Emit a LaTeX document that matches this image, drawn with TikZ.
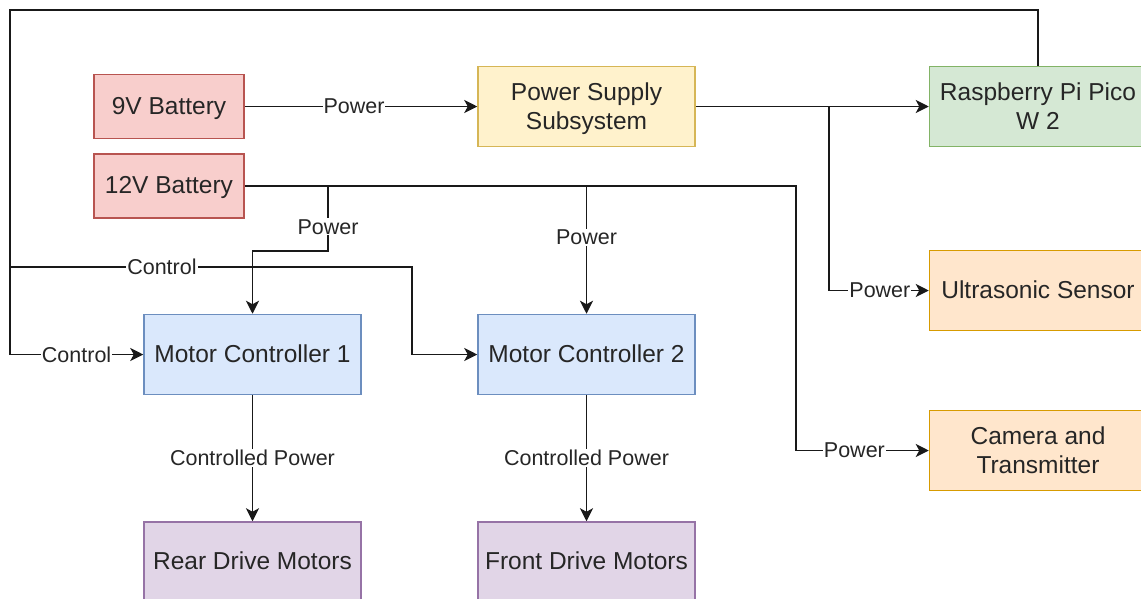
\documentclass[tikz,border=0pt]{standalone}
\usepackage{fontspec}
\setmainfont{Liberation Sans}
\usetikzlibrary{arrows.meta}
\definecolor{redF}{HTML}{F8CECC}\definecolor{redS}{HTML}{B85450}
\definecolor{yelF}{HTML}{FFF2CC}\definecolor{yelS}{HTML}{D6B656}
\definecolor{grnF}{HTML}{D5E8D4}\definecolor{grnS}{HTML}{82B366}
\definecolor{orgF}{HTML}{FFE6CC}\definecolor{orgS}{HTML}{D79B00}
\definecolor{bluF}{HTML}{DAE8FC}\definecolor{bluS}{HTML}{6C8EBF}
\definecolor{purF}{HTML}{E1D5E7}\definecolor{purS}{HTML}{9673A6}
\definecolor{txt}{HTML}{262626}
\tikzset{
  box/.style={draw, line width=1.5pt, minimum width=217pt, minimum height=80pt, inner sep=0pt,
    align=center, text=txt, font=\fontsize{24.5}{29}\selectfont, text height=20.6pt, text depth=5pt},
  twoline/.style={text height=, text depth=0pt},
  bat/.style={box, minimum width=150pt, minimum height=64pt},
  redbox/.style={fill=redF, draw=redS},
  yelbox/.style={fill=yelF, draw=yelS},
  grnbox/.style={fill=grnF, draw=grnS},
  orgbox/.style={fill=orgF, draw=orgS},
  blubox/.style={fill=bluF, draw=bluS},
  purbox/.style={fill=purF, draw=purS},
  wire/.style={line width=1.9pt, draw=black!90},
  arr/.style={wire, -{Stealth[length=13pt,width=13pt,inset=3.5pt]}},
  lbl/.style={fill=white, inner sep=1pt, text=txt, font=\fontsize{21.5}{24}\selectfont}
}
\begin{document}
\begin{tikzpicture}[x=1pt,y=-1pt]
\useasboundingbox (0,0) rectangle (1141,598);
\clip (0,0) rectangle (1141,598);
\fill[white] (0,0) rectangle (1141,598);
% nodes
\node[bat,redbox] (b9) at (169,106.5) {9V Battery};
\node[bat,redbox] (b12) at (169,186) {12V Battery};
\node[box,yelbox,twoline] (pss) at (586.5,106.5) {Power Supply\\Subsystem};
\node[box,grnbox,twoline] (pico) at (1038,106.5) {Raspberry Pi Pico\\W 2};
\node[box,orgbox] (us) at (1038,290.5) {Ultrasonic Sensor};
\node[box,orgbox,twoline] (cam) at (1038,450.5) {Camera and\\Transmitter};
\node[box,blubox] (mc1) at (252.5,354.5) {Motor Controller 1};
\node[box,blubox] (mc2) at (586.5,354.5) {Motor Controller 2};
\node[box,purbox] (rear) at (252.5,562) {Rear Drive Motors};
\node[box,purbox] (front) at (586.5,562) {Front Drive Motors};
% coordinates
\coordinate (j1) at (829,106.5);
\coordinate (c1) at (796,186);
\coordinate (t1) at (328,186);
\coordinate (t1b) at (328,251);
\coordinate (t2) at (586.5,186);
\coordinate (k1) at (10,10);
\coordinate (k2) at (10,267);
\coordinate (k3) at (412,267);
% connectors
\draw[arr] (b9) -- node[lbl,pos=0.47]{Power} (pss);
\draw[arr] (pss) -- (pico);
\draw[arr] (j1) |- node[lbl,pos=0.755]{Power} (us);
\draw[arr] (b12) -- (c1) |- node[lbl,pos=0.72]{Power} (cam);
\draw[arr] (t1) -- node[lbl,pos=0.63]{Power} (t1b) -| (mc1);
\draw[arr] (t2) -- node[lbl,pos=0.4]{Power} (mc2);
\draw[arr] (pico.north) |- (k1) |- node[lbl,pos=0.75]{Control} (mc1);
\draw[arr] (k2) -- node[lbl,pos=0.378]{Control} (k3) |- (mc2);
\draw[arr] (mc1) -- node[lbl]{Controlled Power} (rear);
\draw[arr] (mc2) -- node[lbl]{Controlled Power} (front);
\end{tikzpicture}
\end{document}
